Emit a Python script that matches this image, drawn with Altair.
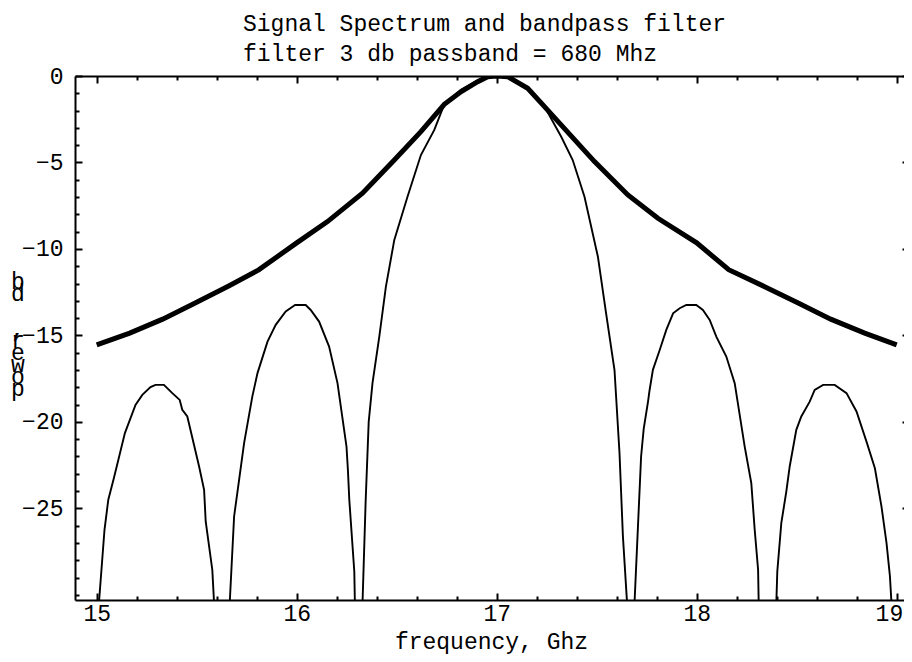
import altair as alt
import pandas as pd

# ---- data ----
# signal spectrum (thin line): frequency in GHz, power in dB (values below the frame are clipped)
spec_freq = [15.0, 15.011, 15.039, 15.058, 15.086, 15.141, 15.194, 15.228, 15.269, 15.294, 15.336,
             15.378, 15.415, 15.428, 15.453, 15.512, 15.537, 15.545, 15.578, 15.587, 15.62,
             15.64, 15.665, 15.687, 15.712, 15.737, 15.778, 15.804, 15.854, 15.895, 15.945, 15.979,
             15.992, 16.045, 16.070, 16.112, 16.162, 16.204, 16.249, 16.256, 16.263, 16.288, 16.291, 16.31,
             16.327, 16.329, 16.345, 16.36, 16.379, 16.413, 16.446, 16.488, 16.554, 16.621, 16.688,
             16.738, 16.821, 16.905, 16.955, 17.045, 17.155, 17.239, 17.322, 17.38, 17.439, 17.506,
             17.547, 17.589, 17.614, 17.631, 17.652, 17.66,
             17.675, 17.689, 17.722, 17.735, 17.757, 17.764, 17.781, 17.815, 17.848, 17.882, 17.915,
             17.948, 17.998, 18.031, 18.065, 18.098, 18.148, 18.19, 18.24, 18.273, 18.29, 18.307, 18.31, 18.35,
             18.38, 18.398, 18.403, 18.423, 18.448, 18.465, 18.498, 18.523, 18.565, 18.59, 18.632, 18.69,
             18.749, 18.799, 18.849, 18.891, 18.924, 18.949, 18.966, 18.974, 19.0]
spec_db = [-45, -30.5, -26.24, -24.5, -23.25, -20.65, -19.02, -18.44, -17.99, -17.86, -17.86,
           -18.34, -18.73, -19.3, -19.69, -22.58, -23.93, -25.76, -28.55, -30.5, -45,
           -45, -30.5, -25.47, -23.35, -21.23, -18.54, -17.18, -15.36, -14.39, -13.62, -13.34,
           -13.24, -13.24, -13.53, -14.2, -15.65, -17.76, -21.43, -22.77, -24.5, -28.65, -30.5, -45,
           -45, -30.5, -24.5, -20.0, -17.76, -15.07, -12.18, -9.48, -6.98, -4.57, -3.12,
           -1.64, -0.8, -0.25, 0.0, 0.0, -0.71, -1.77, -3.5, -4.86, -6.98, -10.45,
           -13.72, -17.0, -21.8, -26.6, -30.5, -45,
           -45, -30.5, -22.0, -20.4, -18.8, -18.2, -16.99, -15.84, -14.68, -13.72, -13.43,
           -13.24, -13.24, -13.53, -14.1, -15.07, -16.22, -17.76, -21.43, -23.54, -26.24, -28.55, -30.5, -45,
           -45, -30.5, -28.65, -25.86, -24.03, -22.58, -20.46, -19.69, -18.83, -18.15, -17.86, -17.86,
           -18.34, -19.4, -21.14, -22.68, -24.9, -27.0, -28.9, -30.5, -45]

# bandpass filter response (thick line)
filt_freq = [15.0, 15.165, 15.33, 15.49, 15.66, 15.81, 16.0, 16.154, 16.329, 16.488, 16.621, 16.738,
             16.821, 16.905, 16.955, 17.0, 17.055, 17.155, 17.239, 17.322, 17.489, 17.656, 17.806,
             18.0, 18.16, 18.34, 18.51, 18.67, 18.84, 19.0]
filt_db = [-15.55, -14.87, -14.06, -13.14, -12.14, -11.21, -9.65, -8.42, -6.78, -4.86, -3.22, -1.64,
           -0.91, -0.33, -0.04, 0.0, -0.04, -0.71, -1.77, -2.83, -4.95, -6.88, -8.23,
           -9.65, -11.2, -12.18, -13.14, -14.06, -14.87, -15.55]

x_major = [15, 16, 17, 18, 19]
x_minor = [15.2, 15.4, 15.6, 15.8, 16.2, 16.4, 16.6, 16.8, 17.2, 17.4, 17.6, 17.8,
           18.2, 18.4, 18.6, 18.8]
y_major = [0, -5, -10, -15, -20, -25]
y_minor = [-1, -2, -3, -4, -6, -7, -8, -9, -11, -12, -13, -14, -16, -17, -18, -19,
           -21, -22, -23, -24, -26, -27, -28, -29, -30]

title_lines = ["Signal Spectrum and bandpass filter", "filter 3 db passband = 680 Mhz"]
x_title = "frequency, Ghz"
# y title "power, db": upright letters stacked, read from bottom to top
y_title_chars = ["b", "d", "\u00a0", "\u00a0", ",", "r", "e", "w", "o", "p"]

FONT = "Liberation Mono"
W, H = 829, 524

spec = pd.DataFrame({"f": spec_freq, "db": spec_db, "i": list(range(len(spec_freq)))})
filt = pd.DataFrame({"f": filt_freq, "db": filt_db, "i": list(range(len(filt_freq)))})
ytitle = pd.DataFrame({"ch": y_title_chars, "k": list(range(len(y_title_chars)))})

xs = alt.Scale(domain=[14.8915, 19.0365], nice=False, zero=False)
ys = alt.Scale(domain=[-30.3, 0], nice=False, zero=False)


def tick_axis(orient, values, size):
    return alt.Axis(orient=orient, values=values, labels=False, domain=False, grid=False,
                    ticks=True, tickSize=size, offset=-size, tickWidth=2, tickColor="black",
                    title=None)


lab_x = alt.Axis(orient="bottom", values=x_major, ticks=False, domain=True, domainColor="black",
                 domainWidth=2, grid=False,
                 labelFont=FONT, labelFontSize=23, labelColor="black", labelPadding=2,
                 labelFlush=9, labelFlushOffset=6,
                 title=x_title, titleFont=FONT, titleFontSize=23, titleFontWeight="normal",
                 titleColor="black", titlePadding=5, titleX=416)
lab_y = alt.Axis(orient="left", values=y_major, ticks=False, domain=True, domainColor="black",
                 domainWidth=2, grid=False,
                 labelFont=FONT, labelFontSize=23, labelColor="black", labelPadding=12,
                 title=None)
top_frame = alt.Axis(orient="top", ticks=False, labels=False, grid=False, domain=True,
                     domainColor="black", domainWidth=2, title=None)

thin = alt.Chart(spec).mark_line(color="black", strokeWidth=1.9, clip=True).encode(
    x=alt.X("f:Q", scale=xs, axis=lab_x),
    y=alt.Y("db:Q", scale=ys, axis=lab_y),
    order="i:Q",
)
thick = alt.Chart(filt).mark_line(color="black", strokeWidth=5, clip=True).encode(
    x=alt.X("f:Q", scale=xs, axis=tick_axis("bottom", x_major, 7)),
    y=alt.Y("db:Q", scale=ys, axis=tick_axis("left", y_major, 7)),
    order="i:Q",
)


def ghost(xa, ya):
    return alt.Chart(filt).mark_line(opacity=0).encode(
        x=alt.X("f:Q", scale=xs, axis=xa),
        y=alt.Y("db:Q", scale=ys, axis=ya),
    )


g1 = ghost(tick_axis("bottom", x_minor, 4), tick_axis("left", y_minor, 4))
g2 = ghost(tick_axis("top", x_major, 7), tick_axis("right", y_major, 2))
g3 = ghost(tick_axis("top", x_minor, 4), None)
g4 = ghost(top_frame, None)

# stacked y-axis title letters (layout scale maps letter index to a vertical slot)
ytext = alt.Chart(ytitle).mark_text(font=FONT, fontSize=23, align="center",
                                    baseline="alphabetic", color="black").encode(
    x=alt.value(-57),
    y=alt.Y("k:Q", scale=alt.Scale(domain=[0, 9], range=[213, 320], nice=False, zero=False),
            axis=None),
    text="ch:N",
)

chart = alt.layer(g1, g2, g3, g4, thick, thin, ytext).resolve_axis(
    x="independent", y="independent"
).resolve_scale(y="independent").properties(
    width=W, height=H,
    title=alt.TitleParams(title_lines, font=FONT, fontSize=23, fontWeight="normal",
                          color="black", anchor="start", align="left", frame="group", dx=168,
                          lineHeight=30, offset=-1),
    autosize=alt.AutoSizeParams(type="none"),
    padding={"left": 67, "top": 68, "right": 0, "bottom": 54},
    background="white",
).configure_view(stroke=None)

chart.save("out.html", embed_options={"renderer": "svg", "actions": False})
